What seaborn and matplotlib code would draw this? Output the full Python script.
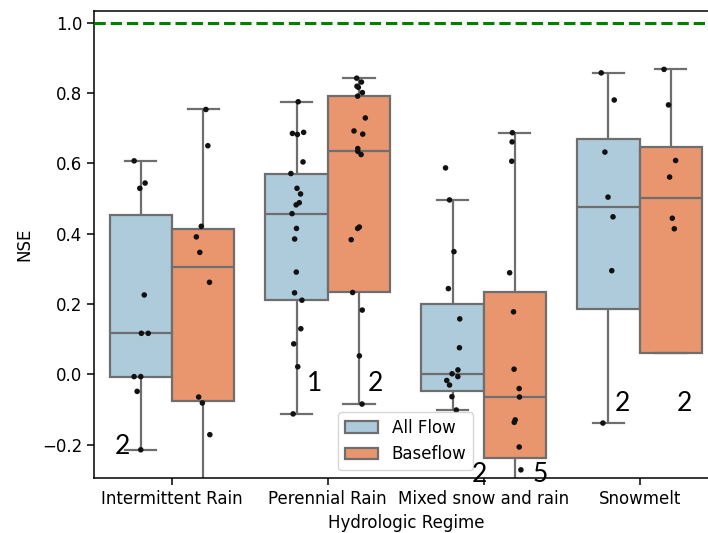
import numpy as np
import pandas as pd
import matplotlib
matplotlib.use("Agg")
import matplotlib.pyplot as plt
import seaborn as sns

# NSE per catchment, grouped by hydrologic regime and flow component
regimes = ["Intermittent Rain", "Perennial Rain", "Mixed snow and rain", "Snowmelt"]
flow_types = ["All Flow", "Baseflow"]

intermittent_all = [0.607, 0.544, 0.529, 0.226, 0.117, 0.117, -0.006, -0.006, -0.048, -0.214]
intermittent_base = [0.753, 0.650, 0.421, 0.391, 0.347, 0.262, -0.064, -0.081, -0.171, -0.52]

perennial_all = [0.775, 0.688, 0.685, 0.682, 0.604, 0.571, 0.529, 0.513, 0.488, 0.482, 0.457,
                 0.415, 0.385, 0.291, 0.232, 0.211, 0.130, 0.087, 0.022, -0.112, -0.62]
perennial_base = [0.842, 0.831, 0.819, 0.816, 0.801, 0.791, 0.729, 0.692, 0.683, 0.642, 0.634,
                  0.625, 0.419, 0.415, 0.383, 0.233, 0.183, 0.053, -0.084, -0.75, -1.2]

mixed_all = [0.587, 0.496, 0.349, 0.244, 0.158, 0.076, 0.013, 0.002, -0.006, -0.017, -0.030,
             -0.063, -0.101, -0.5, -0.85]
mixed_base = [0.687, 0.661, 0.606, 0.289, 0.178, 0.015, -0.040, -0.064, -0.129, -0.136, -0.206,
              -0.271, -0.45, -0.7, -1.3]

snowmelt_all = [0.857, 0.780, 0.632, 0.504, 0.448, 0.295, -0.138, -0.7]
snowmelt_base = [0.867, 0.766, 0.608, 0.561, 0.444, 0.414, -1.0, -1.4]

# counts written below the boxes
count_labels = ["2", "1", "2", "2", "5", "2", "2"]

series = {
    ("Intermittent Rain", "All Flow"): intermittent_all,
    ("Intermittent Rain", "Baseflow"): intermittent_base,
    ("Perennial Rain", "All Flow"): perennial_all,
    ("Perennial Rain", "Baseflow"): perennial_base,
    ("Mixed snow and rain", "All Flow"): mixed_all,
    ("Mixed snow and rain", "Baseflow"): mixed_base,
    ("Snowmelt", "All Flow"): snowmelt_all,
    ("Snowmelt", "Baseflow"): snowmelt_base,
}
rows = [(r, f, v) for (r, f), vals in series.items() for v in vals]
df = pd.DataFrame(rows, columns=["Hydrologic Regime", "Flow", "NSE"])

plt.rcParams["font.size"] = 12

fig = plt.figure(figsize=(7.08, 5.33), dpi=100)
W, H = 708, 533
ax = fig.add_axes([94 / W, 1 - 478.3 / H, (717.5 - 94) / W, (478.3 - 11.3) / H])

box_colors = {"All Flow": "#aecbdc", "Baseflow": "#e9966f"}
sns.boxplot(data=df, x="Hydrologic Regime", y="NSE", hue="Flow",
            order=regimes, hue_order=flow_types, palette=box_colors,
            saturation=1, showfliers=False, linecolor="#6e6e6e",
            linewidth=1.6, width=0.8, ax=ax)

np.random.seed(7)
sns.stripplot(data=df, x="Hydrologic Regime", y="NSE", hue="Flow",
              order=regimes, hue_order=flow_types,
              palette={"All Flow": "#111111", "Baseflow": "#111111"},
              dodge=True, size=4, legend=False, ax=ax)

ax.axhline(1.0, color="green", linestyle="--", linewidth=2.2, zorder=5)

ax.set_ylim(-0.295, 1.032)
ax.set_xlim(-0.5, 3.5)
ax.set_ylabel("NSE", labelpad=6)
ax.set_xlabel("Hydrologic Regime", labelpad=4)
ax.tick_params(length=5, width=1.1)
for spine in ax.spines.values():
    spine.set_linewidth(1.1)

handles, labels = ax.get_legend_handles_labels()
ax.legend(handles[:2], labels[:2], loc="lower center", title=None)

# counts of values falling below the visible range
label_pos = [(-0.32, -0.205), (0.912, -0.025), (1.304, -0.025), (1.971, -0.285),
             (2.362, -0.285), (2.89, -0.082), (3.285, -0.082)]
for txt, (x, y) in zip(count_labels, label_pos):
    ax.text(x, y, txt, ha="center", va="center", fontsize=19,
            family="Lato", color="black", clip_on=False, zorder=6)

fig.savefig("out.png", dpi=100)
